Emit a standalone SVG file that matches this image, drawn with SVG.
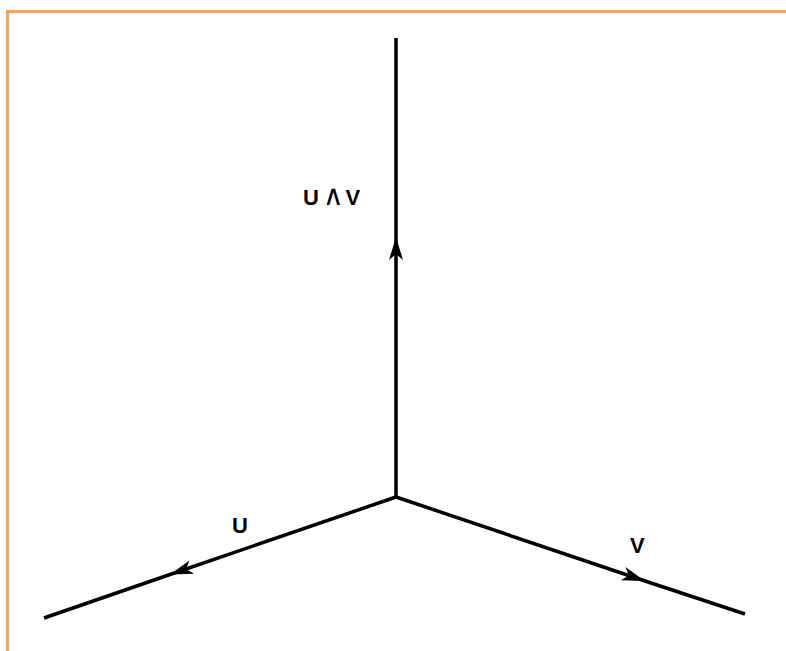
<svg xmlns="http://www.w3.org/2000/svg" width="786" height="651" viewBox="0 0 786 651">
<style>
.edge{fill:none;stroke:#000;stroke-width:3.5;stroke-linecap:butt}
.lbl{font-family:"Liberation Sans",Arial,sans-serif;font-weight:bold;font-size:22px;fill:#000}
.wedge{font-family:"DejaVu Serif","Liberation Serif",serif;font-weight:normal;font-size:28px}
</style>
<defs>
<marker id="arr" markerUnits="userSpaceOnUse" markerWidth="30" markerHeight="20" viewBox="-24 -10 30 20" refX="0" refY="0" orient="auto">
<path d="M0,0 L-23,-7 L-17,0 L-23,7 z" fill="#000"/>
</marker>
</defs>
<rect width="786" height="651" fill="#fff"/>
<path d="M7.5,651 L7.5,11.5 L786,11.5" fill="none" stroke="#f7a55c" stroke-width="3"/>
<g id="connectors">
<path class="edge" d="M396,497 L396,237 L396,38" marker-mid="url(#arr)"/>
<path class="edge" d="M396,497 L170,574.5 L44,618" marker-mid="url(#arr)"/>
<path class="edge" d="M396,497 L645,581 L745,614" marker-mid="url(#arr)"/>
</g>
<g id="node-uv"><text class="lbl" x="303" y="205">U<tspan class="wedge" dx="4">∧</tspan><tspan dx="2">V</tspan></text></g>
<g id="node-u"><text class="lbl" x="232" y="533">U</text></g>
<g id="node-v"><text class="lbl" x="630" y="553">V</text></g>
</svg>
